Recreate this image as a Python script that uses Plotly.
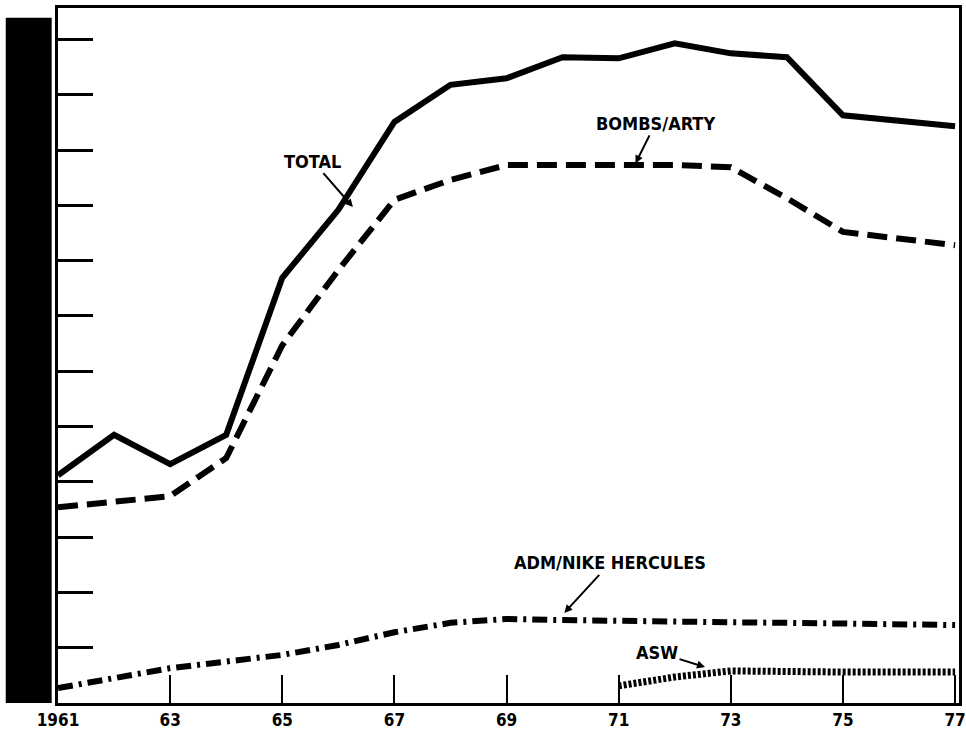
import plotly.graph_objects as go

# fiscal years shown on the chart
years = list(range(1961, 1978))

# values in chart units (one y tick = one unit)
total = [4.12, 4.85, 4.32, 4.85, 7.69, 8.92, 10.51, 11.18, 11.30, 11.68, 11.66, 11.93, 11.75, 11.68, 10.63, 10.54, 10.43]
bombs_arty = [3.54, 3.65, 3.74, 4.43, 6.47, 7.83, 9.10, 9.46, 9.73, 9.73, 9.73, 9.73, 9.69, 9.13, 8.52, 8.41, 8.28]
adm_nike = [0.27, 0.45, 0.63, 0.75, 0.87, 1.05, 1.28, 1.45, 1.52, 1.50, 1.48, 1.47, 1.46, 1.45, 1.44, 1.43, 1.41]
asw_years = list(range(1971, 1978))
asw = [0.31, 0.47, 0.58, 0.56, 0.56, 0.56, 0.56]

x_tickvals = list(range(1961, 1978, 2))
x_ticktext = ["1961", "63", "65", "67", "69", "71", "73", "75", "77"]
y_tickvals = list(range(0, 13))

FONT = "Liberation Sans Narrow, DejaVu Sans Condensed, Arial Narrow, sans-serif"

fig = go.Figure()
fig.add_trace(go.Scatter(x=years, y=total, mode="lines", name="TOTAL",
                         line=dict(color="black", width=6)))
fig.add_trace(go.Scatter(x=years, y=bombs_arty, mode="lines", name="BOMBS/ARTY",
                         line=dict(color="black", width=6, dash="20px,9px")))
fig.add_trace(go.Scatter(x=years, y=adm_nike, mode="lines", name="ADM/NIKE HERCULES",
                         line=dict(color="black", width=6, dash="15px,6px,3px,6px")))
fig.add_trace(go.Scatter(x=asw_years, y=asw, mode="lines", name="ASW",
                         line=dict(color="black", width=7, dash="3px,2px")))

labels = [
    ("TOTAL", 1966.26, 8.97, -40, -46),
    ("BOMBS/ARTY", 1971.30, 9.76, 20, -40),
    ("ADM/NIKE HERCULES", 1970.03, 1.63, 46, -50),
    ("ASW", 1972.54, 0.65, -48, -15),
]
for text, x, y, ax, ay in labels:
    fig.add_annotation(x=x, y=y, ax=ax, ay=ay, text="<b>%s</b>" % text, showarrow=True,
                       arrowhead=2, arrowsize=0.8, arrowwidth=2, arrowcolor="black",
                       font=dict(family=FONT, size=18, color="black"))

# blacked-out y axis label strip from the scan
fig.add_shape(type="rect", xref="paper", yref="paper", x0=-0.058, x1=-0.007, y0=0, y1=0.986,
              fillcolor="black", line_width=0, layer="above")

fig.update_layout(
    width=966, height=739,
    margin=dict(l=58, r=0, t=8, b=36),
    paper_bgcolor="white", plot_bgcolor="white",
    showlegend=False,
    font=dict(family=FONT, color="black"),
)
fig.update_xaxes(range=[1961, 1977.07], tickvals=x_tickvals,
                 ticktext=["<b>%s</b>" % t for t in x_ticktext],
                 ticks="inside", ticklen=28, tickwidth=2, tickcolor="black",
                 showline=True, linewidth=3, linecolor="black", mirror=True,
                 showgrid=False, zeroline=False, ticklabeloverflow="allow",
                 tickfont=dict(family=FONT, size=17, color="black"))
fig.update_yaxes(range=[0, 12.57], tickvals=y_tickvals, showticklabels=False,
                 ticks="inside", ticklen=35, tickwidth=3, tickcolor="black",
                 showline=True, linewidth=3, linecolor="black", mirror=True,
                 showgrid=False, zeroline=False)

# drop the default body margin so the figure fills the window exactly
fig.write_html("out.html", config={"displayModeBar": False},
               post_script="document.body.style.margin='0';")
